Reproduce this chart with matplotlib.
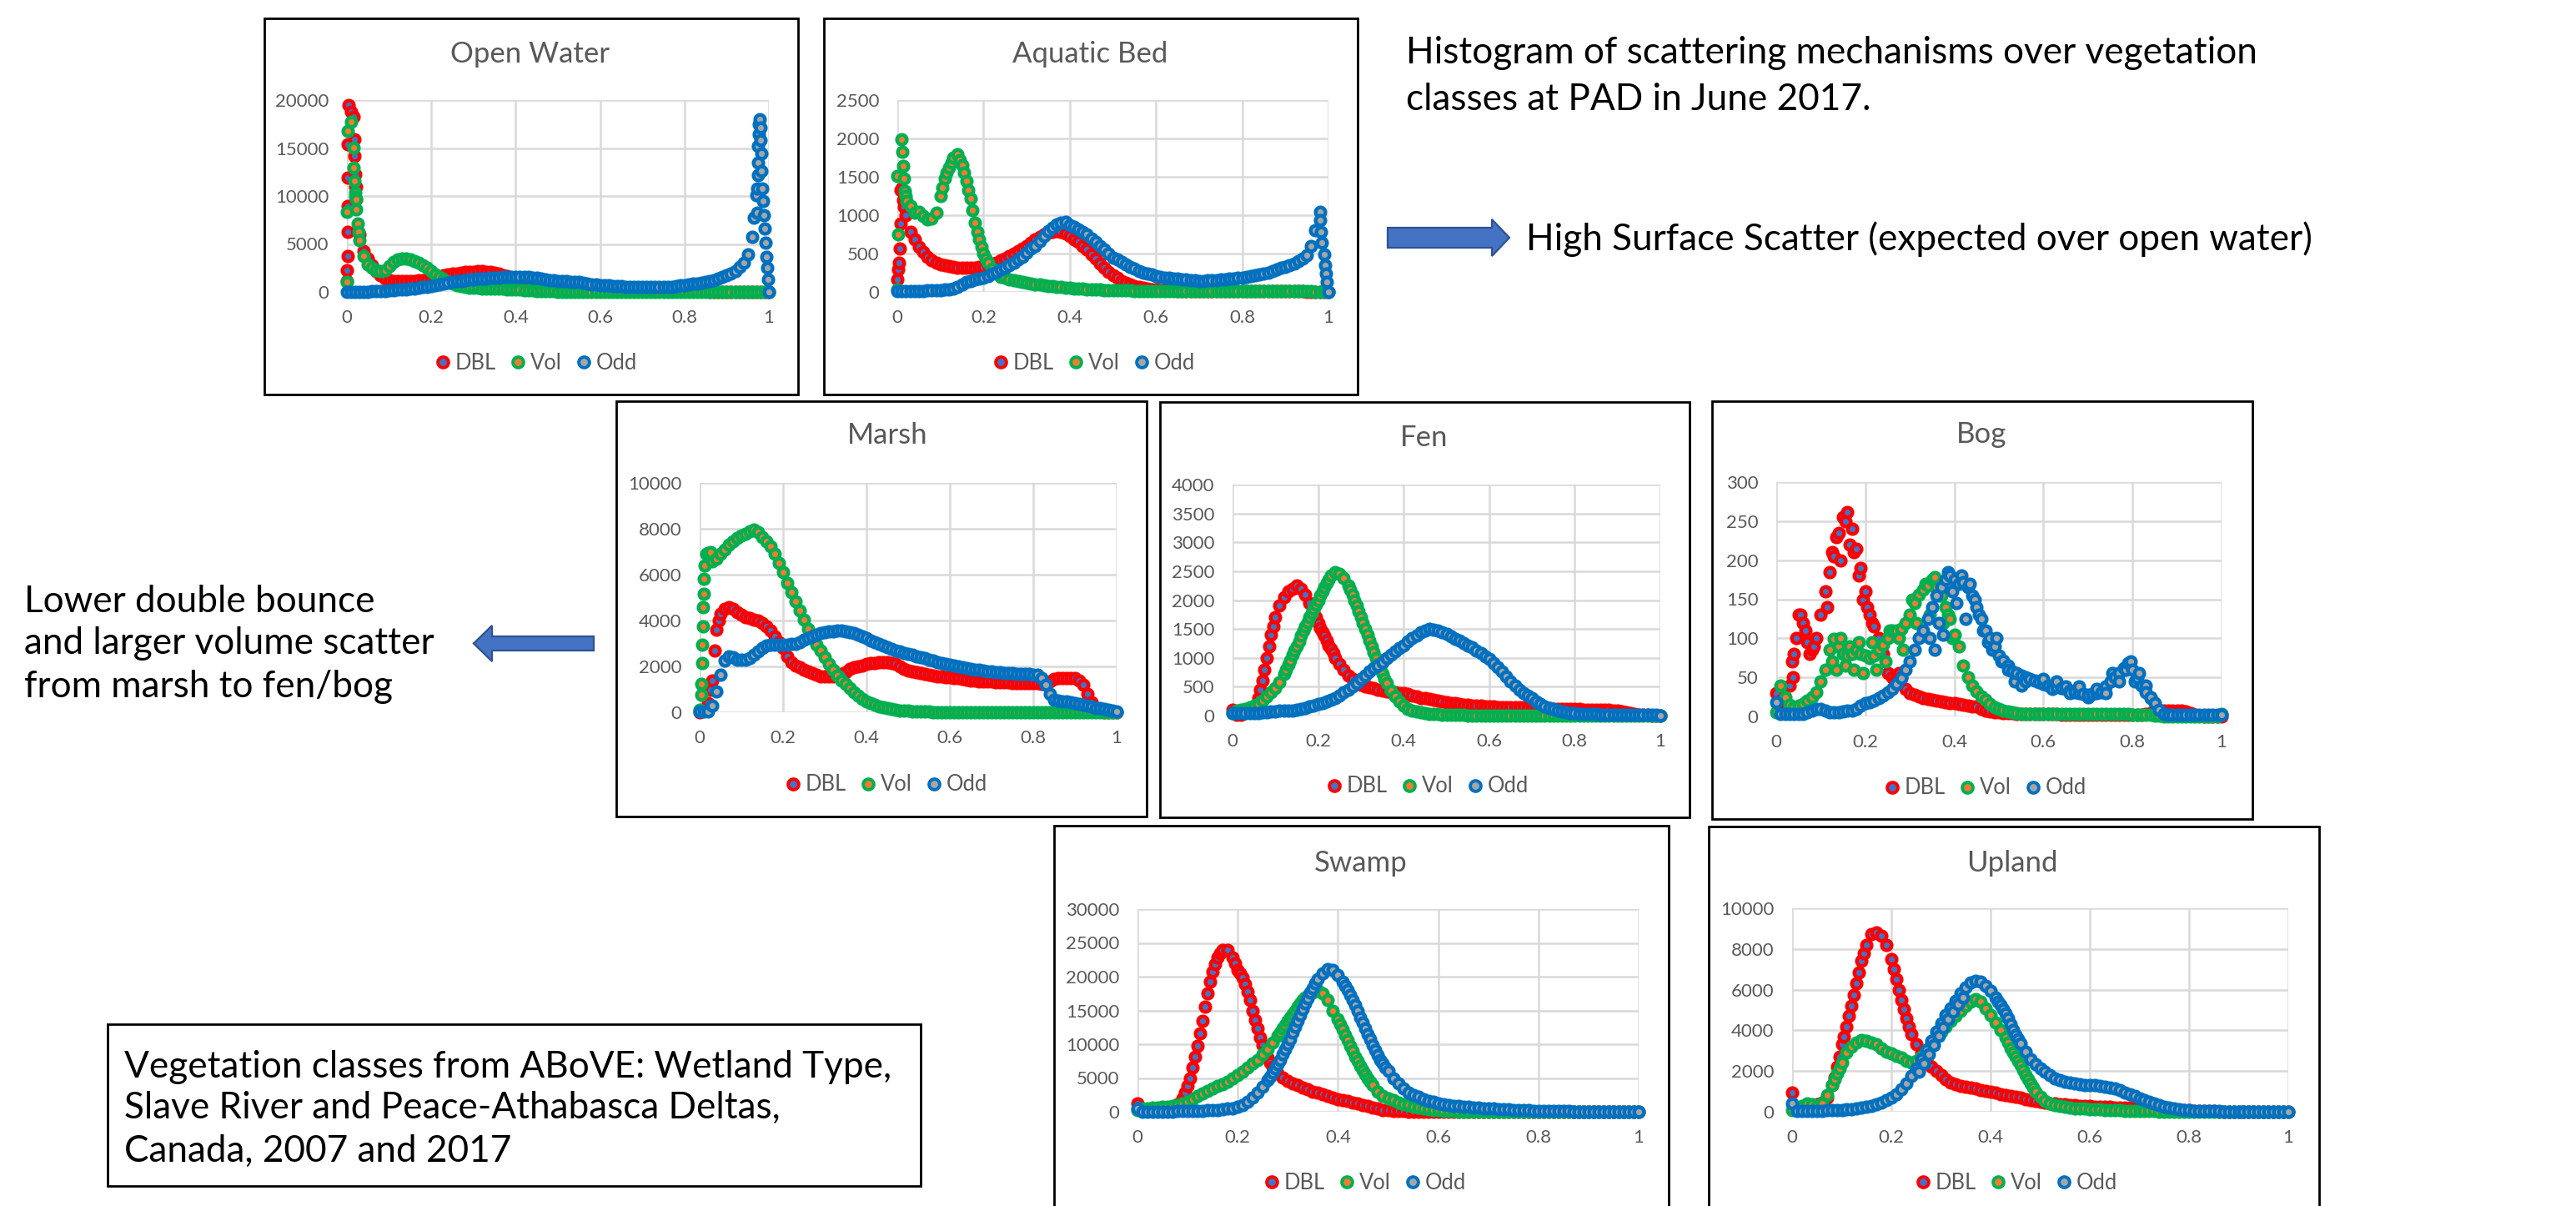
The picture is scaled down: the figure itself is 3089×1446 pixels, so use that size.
import numpy as np
import matplotlib
matplotlib.use("Agg")
import matplotlib.pyplot as plt
from matplotlib.patches import Rectangle, Polygon
from matplotlib.lines import Line2D

plt.rcParams["font.family"] = ["Lato", "DejaVu Sans"]

W, H, DPI = 3089, 1446, 200

# ---------------- data (histogram counts on a 0.01 grid, 0..1, plus extra readings) ----------------
series_names = ["DBL", "Vol", "Odd"]
x_tick_labels = ["0", "0.2", "0.4", "0.6", "0.8", "1"]

# Open Water
ow_dbl = [
    2250, 18800, 11000, 6000, 4300, 3500, 2800, 2200, 1700, 1400,
    1200, 1150, 1100, 1100, 1100, 1100, 1150, 1200, 1250, 1300,
    1400, 1500, 1600, 1700, 1800, 1880, 1950, 2000, 2050, 2100,
    2130, 2150, 2150, 2130, 2080, 2000, 1900, 1780, 1650, 1520,
    1400, 1280, 1170, 1060, 960, 870, 790, 720, 660, 600,
    550, 500, 460, 420, 390, 360, 330, 300, 280, 260,
    240, 220, 200, 190, 180, 170, 160, 150, 140, 130,
    120, 110, 100, 95, 90, 85, 80, 75, 70, 65,
    60, 55, 50, 50, 45, 45, 40, 40, 35, 35,
    30, 30, 25, 25, 20, 20, 15, 10, 5, 0, 0]
ow_dbl_ex_x = [0.0, 0.001, 0.001, 0.002, 0.002, 0.002, 0.003, 0.016, 0.018, 0.018, 0.02, 0.021, 0.022]
ow_dbl_ex_y = [1170, 3710, 6290, 8920, 11900, 15350, 19500, 18260, 15940, 14180, 12280, 10960, 9650]
ow_vol = [
    8330, 17700, 9900, 5400, 3700, 2900, 2500, 2250, 2200, 2300,
    2700, 3100, 3350, 3480, 3500, 3400, 3250, 3050, 2800, 2500,
    2200, 1850, 1550, 1280, 1050, 880, 730, 620, 530, 460,
    420, 400, 380, 360, 350, 340, 330, 320, 300, 280,
    260, 230, 200, 170, 140, 115, 95, 75, 60, 50,
    40, 32, 25, 20, 16, 12, 10, 8, 6, 5,
    4, 3, 3, 2, 2, 2, 1, 1, 1, 1] + [0] * 31
ow_vol_ex_x = [0.0, 0.0025, 0.015, 0.016, 0.018, 0.019, 0.021, 0.022, 0.025, 0.027]
ow_vol_ex_y = [1020, 16800, 15060, 12920, 11550, 10380, 9650, 8630, 7160, 6290]
ow_odd = [
    30, 20, 20, 20, 30, 40, 50, 70, 90, 120,
    150, 180, 220, 260, 300, 340, 390, 440, 490, 540,
    580, 660, 740, 830, 920, 1020, 1100, 1170, 1230, 1280,
    1310, 1350, 1390, 1420, 1440, 1460, 1500, 1540, 1570, 1590,
    1600, 1590, 1570, 1540, 1500, 1460, 1400, 1330, 1260, 1210,
    1170, 1140, 1100, 1070, 1040, 1020, 950, 880, 810, 760,
    730, 700, 670, 640, 610, 580, 560, 540, 520, 510,
    500, 500, 500, 500, 500, 500, 520, 560, 610, 670,
    730, 780, 840, 900, 960, 1020, 1130, 1260, 1400, 1570,
    1750, 1950, 2190, 2600, 3070, 3950, 5700, 10100, 17100, 6580, 0]
ow_odd_ex_x = [0.965, 0.972, 0.973, 0.974, 0.975, 0.975, 0.976, 0.977, 0.978, 0.981,
               0.982, 0.983, 0.985, 0.986, 0.988, 0.993, 0.995, 0.997, 0.998]
ow_odd_ex_y = [7750, 8300, 10800, 12200, 13500, 15200, 16400, 17500, 18000, 15800,
               14470, 12570, 10820, 9500, 8040, 5120, 3650, 2490, 1320]

# Aquatic Bed
ab_dbl = [
    165, 1350, 1000, 780, 680, 590, 520, 460, 410, 380,
    360, 345, 335, 325, 318, 312, 310, 310, 315, 322,
    330, 345, 365, 385, 410, 440, 470, 500, 530, 565,
    600, 640, 680, 715, 745, 770, 785, 790, 780, 760,
    730, 690, 650, 600, 550, 490, 430, 370, 310, 260,
    220, 180, 145, 115, 95, 75, 60, 50, 42, 36,
    30, 26, 22, 20, 18, 16, 15, 14, 13, 12,
    12, 11, 11, 10, 10, 10, 10, 10, 10, 10,
    10, 10, 10, 10, 10, 10, 10, 10, 10, 10,
    10, 10, 10, 8, 6, 5, 4, 3, 2, 1, 0]
ab_dbl_ex_x = [0.002, 0.004, 0.006, 0.007, 0.008, 0.013, 0.016]
ab_dbl_ex_y = [290, 380, 565, 894, 1330, 1200, 1110]
ab_vol = [
    1515, 1990, 1250, 1120, 1030, 1040, 990, 950, 960, 1030,
    1250, 1480, 1620, 1750, 1790, 1650, 1450, 1220, 900, 680,
    500, 380, 300, 240, 200, 180, 160, 148, 138, 128,
    118, 110, 102, 95, 88, 80, 74, 68, 62, 57,
    52, 48, 44, 40, 37, 34, 31, 28, 26, 24,
    22, 20, 19, 18, 17, 16, 15, 14, 13, 12,
    12, 11, 11, 10, 10, 10, 10, 10, 10, 10,
    10, 10, 10, 10, 10, 10, 10, 10, 10, 10,
    10, 10, 10, 10, 10, 10, 10, 10, 10, 10,
    10, 10, 10, 10, 10, 8, 6, 4, 2, 1, 0]
ab_vol_ex_x = [0.0, 0.002, 0.012, 0.014, 0.015, 0.017, 0.022,
               0.105, 0.115, 0.125, 0.145, 0.155, 0.165, 0.175, 0.185, 0.195, 0.205]
ab_vol_ex_y = [36, 755, 1825, 1640, 1480, 1310, 1185,
               1360, 1550, 1690, 1720, 1550, 1330, 1060, 780, 590, 440]
ab_odd = [
    10, 10, 10, 10, 12, 14, 16, 18, 20, 22,
    25, 28, 32, 45, 70, 100, 128, 145, 160, 175,
    190, 210, 240, 265, 290, 320, 350, 380, 420, 460,
    510, 560, 600, 660, 730, 790, 840, 880, 905, 912,
    875, 845, 820, 785, 750, 700, 650, 600, 550, 500,
    450, 420, 390, 360, 330, 300, 275, 255, 240, 225,
    210, 200, 190, 180, 175, 170, 165, 160, 155, 150,
    146, 146, 148, 150, 155, 160, 165, 170, 175, 180,
    190, 200, 210, 220, 230, 240, 255, 270, 290, 310,
    330, 350, 365, 400, 440, 480, 600, 800, 1040, 490, 0]
ab_odd_ex_x = [0.981, 0.982, 0.984, 0.992, 0.994, 0.996]
ab_odd_ex_y = [930, 785, 640, 345, 237, 128]

# Marsh
marsh_dbl = [
    0, 100, 400, 1400, 3600, 4300, 4500, 4580, 4500, 4380,
    4250, 4150, 4100, 4050, 4000, 3900, 3750, 3550, 3300, 3050,
    2800, 2450, 2200, 2050, 1950, 1870, 1780, 1700, 1630, 1570,
    1550, 1550, 1550, 1600, 1680, 1750, 1880, 1950, 2000, 2050,
    2100, 2150, 2150, 2200, 2200, 2180, 2150, 2100, 2000, 1900,
    1820, 1780, 1740, 1700, 1670, 1640, 1610, 1580, 1560, 1540,
    1520, 1500, 1480, 1450, 1430, 1400, 1380, 1360, 1350, 1340,
    1330, 1320, 1310, 1300, 1300, 1290, 1280, 1280, 1270, 1270,
    1270, 1260, 1250, 1250, 1350, 1450, 1480, 1500, 1500, 1500,
    1500, 1400, 1200, 790, 450, 180, 50, 10, 0, 0, 0]
marsh_dbl_ex_x = [0.026, 0.035, 0.045]
marsh_dbl_ex_y = [1000, 2700, 4000]
marsh_vol = [
    100, 5820, 6950, 6580, 6700, 6900, 7100, 7300, 7450, 7600,
    7700, 7800, 7900, 7975, 7850, 7650, 7450, 7250, 6900, 6500,
    6100, 5650, 5250, 4850, 4450, 4050, 3650, 3300, 2950, 2700,
    2400, 2100, 1850, 1600, 1400, 1250, 1050, 870, 710, 580,
    480, 400, 320, 260, 210, 170, 140, 110, 90, 70,
    60, 50, 40, 30, 25, 20, 15, 12, 10, 8,
    6, 5, 4, 3, 2, 2, 1, 1, 1, 1] + [0] * 31
marsh_vol_ex_x = [0.003, 0.004, 0.005, 0.006, 0.007, 0.008, 0.009, 0.012, 0.015, 0.025]
marsh_vol_ex_y = [760, 1250, 2160, 2950, 3730, 4580, 5150, 6400, 6900, 7000]
marsh_odd = [
    50, 20, 20, 300, 900, 1650, 2250, 2450, 2400, 2300,
    2280, 2280, 2350, 2500, 2650, 2800, 2900, 2950, 2950, 2950,
    2950, 2950, 2980, 3000, 3050, 3150, 3250, 3320, 3400, 3450,
    3490, 3520, 3540, 3550, 3550, 3540, 3500, 3450, 3380, 3300,
    3220, 3140, 3060, 2980, 2900, 2830, 2760, 2700, 2650, 2600,
    2550, 2500, 2450, 2400, 2350, 2300, 2250, 2200, 2160, 2120,
    2080, 2040, 2000, 1960, 1920, 1890, 1860, 1840, 1820, 1800,
    1780, 1760, 1740, 1720, 1710, 1700, 1690, 1680, 1670, 1660,
    1650, 1620, 1500, 1200, 800, 550, 500, 480, 460, 430,
    400, 360, 320, 280, 240, 200, 170, 140, 110, 80, 50]

# Fen
fen_dbl = [
    100, 20, 20, 40, 70, 120, 300, 600, 1000, 1400,
    1700, 1900, 2050, 2150, 2200, 2250, 2200, 2100, 1950, 1800,
    1600, 1450, 1300, 1150, 1000, 900, 800, 700, 630, 580,
    540, 510, 490, 470, 450, 430, 420, 410, 400, 395,
    390, 370, 350, 330, 310, 300, 285, 270, 255, 240,
    230, 220, 210, 200, 190, 185, 180, 175, 170, 165,
    160, 155, 150, 148, 146, 144, 142, 140, 138, 136,
    134, 130, 128, 126, 124, 122, 120, 118, 116, 114,
    112, 110, 108, 106, 104, 102, 100, 98, 95, 90,
    85, 70, 55, 40, 30, 20, 15, 10, 5, 0, 0]
fen_dbl_ex_x = [0.065, 0.075, 0.085, 0.095, 0.195, 0.205, 0.215, 0.225, 0.235]
fen_dbl_ex_y = [450, 800, 1200, 1550, 1700, 1520, 1380, 1220, 1080]
fen_vol = [
    50, 80, 100, 120, 140, 170, 200, 260, 330, 400,
    480, 580, 720, 880, 1050, 1200, 1380, 1550, 1700, 1850,
    2000, 2150, 2300, 2420, 2480, 2450, 2380, 2250, 2100, 1900,
    1700, 1500, 1300, 1100, 900, 720, 560, 430, 330, 240,
    170, 120, 90, 70, 55, 45, 35, 28, 22, 18,
    15, 12, 10, 9, 8, 7, 6, 5, 5, 4,
    4, 4, 3, 3, 3, 3, 2, 2, 2, 2,
    2, 2, 2, 1, 1, 1, 1, 1, 1, 1] + [0] * 21
fen_vol_ex_x = [0.125, 0.135, 0.145, 0.155, 0.165, 0.175, 0.185, 0.195, 0.205, 0.215,
                0.225, 0.275, 0.285, 0.295, 0.305, 0.315, 0.325, 0.335, 0.345, 0.355]
fen_vol_ex_y = [800, 960, 1130, 1290, 1470, 1620, 1780, 1920, 2080, 2230,
                2360, 2180, 2000, 1800, 1600, 1400, 1200, 1000, 810, 640]
fen_odd = [
    50, 40, 40, 40, 50, 50, 50, 60, 60, 70,
    70, 80, 80, 90, 90, 100, 110, 130, 160, 180,
    200, 220, 250, 280, 310, 350, 400, 450, 510, 570,
    640, 700, 760, 820, 870, 930, 990, 1050, 1110, 1170,
    1220, 1280, 1340, 1390, 1440, 1480, 1500, 1490, 1470, 1440,
    1410, 1370, 1330, 1300, 1260, 1220, 1180, 1130, 1080, 1030,
    980, 910, 840, 760, 680, 590, 520, 450, 390, 340,
    300, 250, 200, 160, 130, 110, 90, 70, 55, 45,
    40, 35, 30, 30, 25, 25, 20, 20, 20, 15,
    15, 15, 15, 10, 10, 10, 10, 10, 10, 10, 0]

# Bog
bog_dbl = [
    30, 20, 10, 40, 80, 130, 120, 95, 85, 100,
    130, 160, 185, 205, 235, 255, 262, 240, 215, 190,
    160, 130, 115, 100, 80, 55, 50, 48, 50, 35,
    30, 28, 26, 24, 22, 21, 20, 19, 18, 17,
    17, 16, 15, 14, 13, 13, 10, 8, 6, 5,
    5, 4, 4, 4, 3, 3, 3, 3, 3, 3,
    3, 3, 3, 3, 2, 2, 2, 2, 2, 2,
    2, 2, 2, 2, 2, 2, 2, 2, 2, 2,
    2, 2, 2, 3, 4, 5, 6, 7, 8, 8,
    8, 7, 6, 4, 2, 1, 0, 0, 0, 0, 0]
bog_dbl_ex_x = [0.035, 0.037, 0.045, 0.055, 0.065, 0.075, 0.085, 0.115, 0.125, 0.135,
                0.145, 0.155, 0.165, 0.175, 0.185, 0.195, 0.205, 0.215, 0.265, 0.275]
bog_dbl_ex_y = [70, 50, 100, 130, 110, 80, 90, 140, 210, 230,
                200, 250, 220, 210, 180, 150, 140, 120, 45, 55]
bog_vol = [
    5, 40, 25, 15, 12, 14, 16, 20, 25, 31,
    45, 60, 85, 99, 90, 80, 78, 80, 85, 80,
    78, 75, 78, 85, 92, 100, 110, 110, 112, 120,
    130, 145, 156, 162, 168, 175, 165, 155, 140, 125,
    105, 90, 65, 50, 40, 32, 26, 21, 16, 12,
    10, 8, 6, 5, 4, 3, 3, 3, 3, 3,
    3, 3, 3, 3, 3, 3, 3, 3, 3, 3,
    3, 3, 3, 3, 3, 3, 3, 3, 3, 3,
    2, 2, 2, 2, 2, 1, 1, 0, 0, 0,
    0, 0, 0, 0, 0, 0, 0, 0, 0, 0, 3]
bog_vol_ex_x = [0.125, 0.135, 0.145, 0.155, 0.165, 0.175, 0.185, 0.195, 0.215, 0.225,
                0.245, 0.255, 0.275, 0.285, 0.305, 0.315, 0.335, 0.345, 0.355, 0.365,
                0.375, 0.385, 0.395]
bog_vol_ex_y = [70, 60, 100, 65, 90, 60, 95, 55, 95, 60,
                70, 110, 100, 85, 150, 120, 170, 130, 178, 155,
                120, 130, 100]
bog_odd = [
    18, 3, 3, 3, 3, 3, 3, 5, 8, 10,
    10, 8, 5, 5, 5, 6, 7, 8, 10, 14,
    17, 18, 20, 24, 27, 31, 35, 42, 49, 60,
    70, 85, 100, 110, 125, 140, 155, 165, 175, 180,
    175, 170, 172, 165, 155, 140, 125, 110, 100, 90,
    78, 72, 65, 58, 55, 52, 50, 48, 46, 44,
    42, 40, 38, 37, 36, 35, 33, 31, 30, 29,
    28, 29, 30, 31, 38, 45, 50, 56, 62, 68,
    60, 49, 40, 31, 24, 17, 9, 3, 2, 2,
    2, 2, 2, 2, 2, 2, 2, 2, 2, 2, 2]
bog_odd_ex_x = [0.345, 0.355, 0.365, 0.375, 0.385, 0.395, 0.405, 0.415, 0.425, 0.435,
                0.445, 0.455, 0.465, 0.475, 0.485, 0.495, 0.505, 0.52, 0.535, 0.55,
                0.56, 0.6, 0.62, 0.63, 0.65, 0.66, 0.68, 0.7, 0.72, 0.74,
                0.755, 0.77, 0.785, 0.795, 0.805, 0.815, 0.83, 0.84]
bog_odd_ex_y = [100, 85, 120, 105, 185, 160, 145, 180, 125, 170,
                150, 130, 110, 95, 85, 100, 70, 60, 45, 40,
                45, 48, 35, 45, 38, 30, 38, 25, 35, 30,
                55, 45, 60, 70, 45, 55, 40, 25]

# Swamp
swamp_dbl = [
    1200, 100, 100, 100, 150, 250, 400, 700, 1100, 2000,
    3800, 6500, 9800, 13500, 17500, 20800, 22800, 23900, 24000, 22900,
    21000, 19900, 17800, 15000, 12300, 9900, 8000, 6700, 5700, 5100,
    4600, 4200, 3900, 3600, 3300, 3000, 2800, 2550, 2300, 2100,
    1850, 1700, 1550, 1400, 1200, 1030, 850, 620, 450, 300,
    200, 150, 110, 80, 60, 50, 40, 30, 25, 20,
    15, 12, 10, 10, 10, 10, 10, 10, 10, 10,
    10, 10, 10, 10, 10, 10, 10, 10, 10, 10,
    10, 10, 10, 10, 10, 10, 10, 10, 10, 10,
    10, 10, 10, 10, 10, 10, 10, 10, 10, 10, 0]
swamp_dbl_ex_x = [0.095, 0.105, 0.115, 0.125, 0.135, 0.145, 0.155, 0.165,
                  0.195, 0.205, 0.215, 0.225, 0.235, 0.245, 0.255, 0.265]
swamp_dbl_ex_y = [2800, 5000, 8100, 11600, 15500, 19300, 21900, 23500,
                  22000, 20500, 18900, 16500, 13600, 11000, 8900, 7300]
swamp_vol = [
    200, 500, 550, 600, 650, 700, 800, 900, 1000, 1200,
    1500, 1900, 2300, 2700, 3100, 3500, 3800, 4100, 4500, 4900,
    5400, 5900, 6500, 7100, 7700, 8500, 9300, 10200, 11200, 12300,
    13400, 14500, 15600, 16500, 17200, 17700, 18000, 17500, 16500, 15000,
    13700, 12200, 10600, 9000, 7500, 6200, 5000, 3900, 3000, 2400,
    2000, 1700, 1400, 1150, 950, 750, 600, 480, 400, 300,
    200, 150, 110, 80, 60, 45, 35, 25, 20, 15,
    10, 8, 6, 5, 4, 3, 2, 1, 0, 0] + [0] * 21
swamp_vol_ex_x = [0.285, 0.295, 0.305, 0.315, 0.325, 0.335, 0.345,
                  0.405, 0.415, 0.425, 0.435, 0.445, 0.455, 0.465]
swamp_vol_ex_y = [11700, 12800, 14000, 15000, 16100, 16900, 17500,
                  13000, 11400, 9800, 8200, 6800, 5600, 4400]
swamp_odd = [
    500, 50, 50, 50, 50, 50, 50, 60, 70, 80,
    100, 120, 140, 160, 190, 230, 280, 350, 450, 550,
    700, 1000, 1500, 2100, 2800, 3700, 4700, 5800, 7000, 8500,
    10000, 11700, 13500, 15200, 16800, 18300, 19600, 20500, 21100, 21000,
    20300, 19300, 18000, 16600, 14900, 13200, 11500, 9900, 8400, 7100,
    6000, 5000, 4200, 3500, 2900, 2500, 2200, 1900, 1650, 1450,
    1250, 1100, 1000, 900, 820, 750, 700, 650, 600, 550,
    500, 450, 400, 360, 320, 290, 260, 230, 200, 180,
    160, 140, 120, 100, 90, 80, 70, 60, 50, 40,
    35, 30, 30, 25, 25, 20, 20, 20, 15, 15, 10]
swamp_odd_ex_x = [0.265, 0.275, 0.285, 0.295, 0.305, 0.315, 0.325, 0.335, 0.345, 0.355,
                  0.415, 0.425, 0.435, 0.445, 0.455, 0.465, 0.475, 0.485, 0.495]
swamp_odd_ex_y = [5200, 6400, 7700, 9200, 10800, 12600, 14300, 16000, 17600, 19000,
                  18700, 17300, 15800, 14000, 12300, 10700, 9100, 7700, 6500]

# Upland
upland_dbl = [
    950, 100, 150, 200, 250, 350, 450, 700, 1300, 2200,
    3300, 4200, 5200, 6300, 7400, 8200, 8750, 8800, 8650, 8200,
    7500, 6500, 5500, 4600, 3800, 3300, 2900, 2500, 2200, 2000,
    1800, 1600, 1450, 1350, 1280, 1220, 1170, 1130, 1080, 1030,
    980, 930, 880, 830, 780, 730, 680, 630, 580, 530,
    480, 450, 420, 390, 370, 350, 330, 310, 290, 280,
    270, 260, 250, 240, 230, 225, 220, 215, 210, 205,
    200, 180, 160, 140, 120, 100, 90, 80, 75, 70,
    70, 60, 50, 40, 30, 25, 20, 15, 10, 10,
    10, 10, 10, 10, 10, 10, 10, 10, 10, 10, 0]
upland_dbl_ex_x = [0.085, 0.095, 0.105, 0.115, 0.125, 0.135, 0.145, 0.205, 0.215, 0.225, 0.235]
upland_dbl_ex_y = [1700, 2700, 3700, 4700, 5750, 6850, 7800, 7000, 6000, 5050, 4200]
upland_vol = [
    100, 200, 300, 400, 350, 270, 400, 800, 1300, 1900,
    2400, 2900, 3200, 3400, 3520, 3500, 3400, 3300, 3100, 2950,
    2850, 2750, 2650, 2500, 2420, 2500, 2700, 3050, 3350, 3700,
    3950, 4200, 4450, 4700, 4950, 5200, 5400, 5550, 5400, 5100,
    4750, 4400, 4000, 3650, 3100, 2700, 2300, 1800, 1400, 1000,
    750, 550, 430, 340, 280, 230, 200, 180, 160, 150,
    140, 120, 110, 100, 90, 80, 70, 60, 50, 45,
    40, 35, 30, 25, 20, 15, 12, 10, 8, 5,
    3, 2, 1, 0, 0, 0, 0, 0, 0, 0] + [0] * 11
upland_vol_ex_x = [0.085, 0.095, 0.435, 0.445, 0.455, 0.465, 0.475, 0.485]
upland_vol_ex_y = [1600, 2150, 3400, 2900, 2500, 2050, 1600, 1200]
upland_odd = [
    400, 30, 30, 40, 40, 50, 60, 70, 80, 90,
    100, 120, 140, 160, 190, 230, 280, 350, 450, 560,
    700, 880, 1100, 1400, 1750, 2150, 2600, 3050, 3500, 3950,
    4350, 4750, 5100, 5450, 5800, 6100, 6350, 6450, 6400, 6200,
    5950, 5600, 5250, 4850, 4300, 3770, 3350, 2950, 2600, 2350,
    2120, 1950, 1800, 1650, 1550, 1480, 1420, 1380, 1350, 1330,
    1310, 1300, 1280, 1250, 1200, 1130, 1050, 960, 860, 760,
    660, 560, 480, 400, 330, 260, 210, 160, 120, 90,
    70, 55, 45, 40, 35, 30, 25, 20, 20, 15,
    15, 15, 10, 10, 10, 10, 10, 10, 10, 10, 10]
upland_odd_ex_x = [0.255, 0.265, 0.275, 0.285, 0.295, 0.305, 0.315, 0.325, 0.335, 0.345,
                   0.415, 0.425, 0.435, 0.445, 0.455]
upland_odd_ex_y = [1950, 2380, 2830, 3280, 3730, 4150, 4550, 4930, 5280, 5630,
                   5430, 5050, 4580, 4030, 3560]

none = []

# ---------------- styling ----------------
edge_colors = ["#FF0000", "#00B050", "#0070C0"]
face_colors = ["#4472C4", "#ED7D31", "#A5A5A5"]
GRAY = "#595959"
MS, MEW = 4.2, 1.6

# panel layout in pixels: frame (l, t, r, b), plot area (l, t, r, b), title centre, legend centre
panels = [
    ("Open Water", [(ow_dbl, ow_dbl_ex_x, ow_dbl_ex_y), (ow_vol, ow_vol_ex_x, ow_vol_ex_y),
                    (ow_odd, ow_odd_ex_x, ow_odd_ex_y)],
     20000, 5000, (317, 22, 957, 473), (416, 120, 922, 350), (636, 65), (643, 435)),
    ("Aquatic Bed", [(ab_dbl, ab_dbl_ex_x, ab_dbl_ex_y), (ab_vol, ab_vol_ex_x, ab_vol_ex_y),
                     (ab_odd, ab_odd_ex_x, ab_odd_ex_y)],
     2500, 500, (988, 22, 1628, 473), (1076, 120, 1593, 350), (1307, 65), (1312, 435)),
    ("Marsh", [(marsh_dbl, marsh_dbl_ex_x, marsh_dbl_ex_y), (marsh_vol, marsh_vol_ex_x, marsh_vol_ex_y),
               (marsh_odd, none, none)],
     10000, 2000, (739, 481, 1375, 979), (839, 579, 1339, 854), (1064, 522), (1063, 941)),
    ("Fen", [(fen_dbl, fen_dbl_ex_x, fen_dbl_ex_y), (fen_vol, fen_vol_ex_x, fen_vol_ex_y),
             (fen_odd, none, none)],
     4000, 500, (1391, 482, 2026, 980), (1478, 581, 1991, 858), (1708, 525), (1712, 943)),
    ("Bog", [(bog_dbl, bog_dbl_ex_x, bog_dbl_ex_y), (bog_vol, bog_vol_ex_x, bog_vol_ex_y),
             (bog_odd, bog_odd_ex_x, bog_odd_ex_y)],
     300, 50, (2053, 481, 2701, 982), (2130, 578, 2664, 859), (2376, 521), (2381, 945)),
    ("Swamp", [(swamp_dbl, swamp_dbl_ex_x, swamp_dbl_ex_y), (swamp_vol, swamp_vol_ex_x, swamp_vol_ex_y),
               (swamp_odd, swamp_odd_ex_x, swamp_odd_ex_y)],
     30000, 5000, (1264, 990, 2001, 1470), (1364, 1090, 1965, 1333), (1632, 1035), (1637, 1418)),
    ("Upland", [(upland_dbl, upland_dbl_ex_x, upland_dbl_ex_y), (upland_vol, upland_vol_ex_x, upland_vol_ex_y),
                (upland_odd, upland_odd_ex_x, upland_odd_ex_y)],
     10000, 2000, (2049, 991, 2781, 1470), (2149, 1089, 2744, 1333), (2413, 1035), (2418, 1418)),
]


def fx(px):
    return px / W


def fy(py):
    return 1 - py / H


def frame(fig, l, t, r, b, lw=1.0):
    fig.add_artist(Rectangle((fx(l), fy(b)), fx(r) - fx(l), fy(t) - fy(b),
                             transform=fig.transFigure, fill=False, ec="black", lw=lw))


fig = plt.figure(figsize=(W / DPI, H / DPI), dpi=DPI)
fig.patch.set_facecolor("white")

for title, series, ymax, ystep, fr, pa, tpos, lpos in panels:
    frame(fig, *fr)
    l, t, r, b = pa
    ax = fig.add_axes([fx(l), fy(b), fx(r) - fx(l), fy(t) - fy(b)])
    for (vals, ex_x, ex_y), ec, fc in zip(series, edge_colors, face_colors):
        x = np.concatenate([np.linspace(0, 1, len(vals)), np.asarray(ex_x, float)])
        y = np.concatenate([np.asarray(vals, float), np.asarray(ex_y, float)])
        order = np.argsort(x, kind="stable")
        ax.plot(x[order], y[order], ls="none", marker="o", ms=MS, mew=MEW,
                mec=ec, mfc=fc, clip_on=False, zorder=3)
    ax.set_xlim(0, 1)
    ax.set_ylim(0, ymax)
    ax.set_xticks(np.linspace(0, 1, 6))
    ax.set_xticklabels(x_tick_labels)
    yt = np.arange(0, ymax + 1, ystep)
    ax.set_yticks(yt)
    ax.set_yticklabels([str(int(v)) for v in yt])
    for s in ax.spines.values():
        s.set_visible(False)
    ax.grid(True, color="#D9D9D9", lw=0.9)
    ax.set_axisbelow(True)
    ax.tick_params(axis="x", length=0, labelsize=8.0, labelcolor=GRAY, pad=7.4)
    ax.tick_params(axis="y", length=0, labelsize=8.0, labelcolor=GRAY, pad=7.8)
    ax.set_facecolor("none")

    fig.text(fx(tpos[0]), fy(tpos[1]), title, ha="center", va="center",
             fontsize=12.5, color=GRAY)
    handles = [Line2D([], [], ls="none", marker="o", ms=4.6, mew=1.4, mec=ec, mfc=fc)
               for ec, fc in zip(edge_colors, face_colors)]
    fig.legend(handles, series_names, loc="center", bbox_to_anchor=(fx(lpos[0]), fy(lpos[1])),
               ncol=3, frameon=False, fontsize=9.2, labelcolor=GRAY, handlelength=0.7,
               handletextpad=0.2, columnspacing=0.7, borderpad=0, borderaxespad=0)

# ---------------- annotations ----------------
FS = 15.9
fig.text(fx(1686), fy(63), "Histogram of scattering mechanisms over vegetation",
         ha="left", va="center", fontsize=FS)
fig.text(fx(1686), fy(120), "classes at PAD in June 2017.", ha="left", va="center", fontsize=FS)
fig.text(fx(1830), fy(287), "High Surface Scatter (expected over open water)",
         ha="left", va="center", fontsize=FS)

for yy, line in zip([722, 772, 823], ["Lower double bounce", "and larger volume scatter",
                                      "from marsh to fen/bog"]):
    fig.text(fx(29), fy(yy), line, ha="left", va="center", fontsize=FS)

frame(fig, 129, 1228, 1104, 1422)
for yy, line in zip([1280, 1328, 1380], ["Vegetation classes from ABoVE: Wetland Type,",
                                         "Slave River and Peace-Athabasca Deltas,",
                                         "Canada, 2007 and 2017"]):
    fig.text(fx(149), fy(yy), line, ha="left", va="center", fontsize=FS)


def block_arrow(pts):
    fig.add_artist(Polygon([(fx(px), fy(py)) for px, py in pts], closed=True,
                           transform=fig.transFigure, fc="#4472C4", ec="#2F528F", lw=0.8))


block_arrow([(1664, 273), (1789, 273), (1789, 263), (1810, 285),
             (1789, 307), (1789, 297), (1664, 297)])
block_arrow([(712, 763), (590, 763), (590, 750), (568, 771.5),
             (590, 793), (590, 780), (712, 780)])

fig.savefig("out.png", dpi=DPI, facecolor="white")
